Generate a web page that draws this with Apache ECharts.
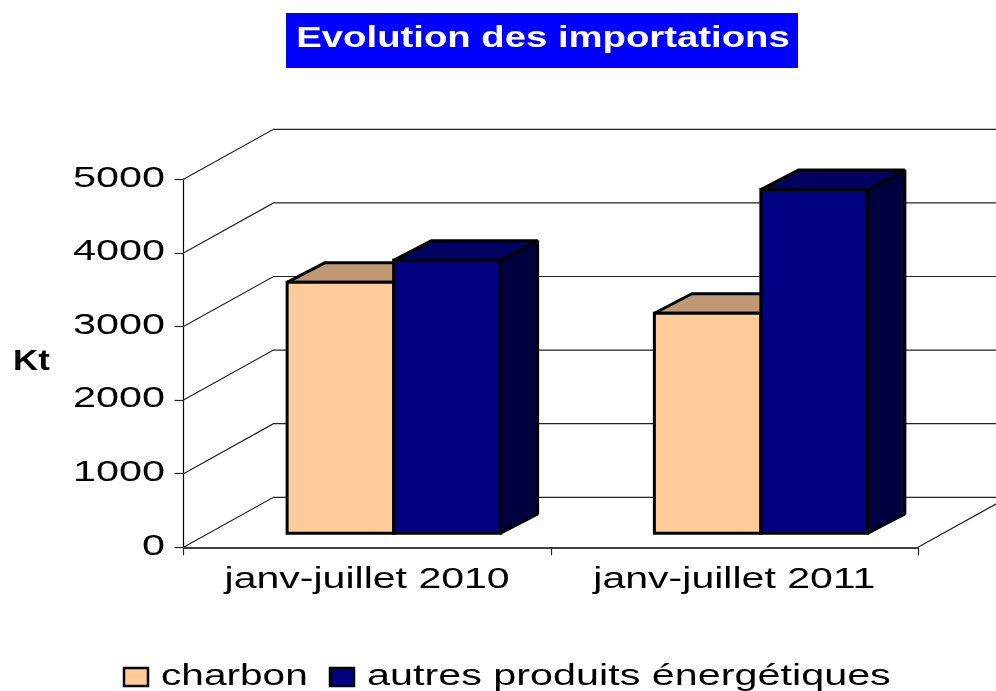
<!DOCTYPE html>
<html lang="fr">
<head>
    <meta charset="UTF-8">
    <title>Evolution des importations</title>
    <script src="https://cdn.jsdelivr.net/npm/echarts@6/dist/echarts.min.js"></script>
    <style>
        html, body { margin: 0; padding: 0; background: #fff; }
        #main { width: 996px; height: 691px; }
    </style>
</head>
<body>
<div id="main"></div>
<script>
    var titleText = 'Evolution des importations';
    var unitLabel = 'Kt';
    var categories = ['janv-juillet 2010', 'janv-juillet 2011'];
    var yTicks = [0, 1000, 2000, 3000, 4000, 5000];
    var charbon = [3410, 2990];
    var autres = [3710, 4670];
    var seriesNames = ['charbon', 'autres produits énergétiques'];

    // the source picture is stretched sideways, so the text is too
    var FONT = '"Liberation Sans", Arial, sans-serif';
    // floor depth of the fake 3D box, and where the bars stand in it
    var WALL_DX = 90, WALL_DY = -50;
    var BAR_DX = 26.5, BAR_DY = -14;
    var SIDE_DX = 37.5, SIDE_DY = -19.5;

    function pts(list) {
        return { points: list };
    }

    // back wall, side wall and floor lines
    function renderWalls(params, api) {
        var v = api.value(0);
        var y = api.coord([0, v])[1];
        var left = params.coordSys.x;
        var right = left + params.coordSys.width;
        var lines = [{
            type: 'polyline',
            shape: pts([[left, y], [left + WALL_DX, y + WALL_DY], [right + WALL_DX, y + WALL_DY]]),
            style: { fill: null, stroke: '#222', lineWidth: 1.2 }
        }];
        if (v === 0) {
            lines.push({
                type: 'line',
                shape: { x1: right, y1: y, x2: right + WALL_DX, y2: y + WALL_DY },
                style: { stroke: '#222', lineWidth: 1.2 }
            });
        }
        return { type: 'group', children: lines };
    }

    function barRenderer(side, front, top, dark) {
        return function (params, api) {
            var i = api.value(0);
            var p = api.coord([i, api.value(1)]);
            var base = api.coord([i, 0]);
            var w = api.size([1, 0])[0] * 0.29;
            var x0 = p[0] + BAR_DX + (side === 0 ? -w : 0);
            var x1 = x0 + w;
            var yt = p[1] + BAR_DY;
            var yb = base[1] + BAR_DY;
            var edge = { stroke: '#000', lineWidth: 3, lineJoin: 'bevel' };
            return {
                type: 'group',
                children: [
                    {
                        type: 'polygon',
                        shape: pts([[x1, yt], [x1 + SIDE_DX, yt + SIDE_DY], [x1 + SIDE_DX, yb + SIDE_DY], [x1, yb]]),
                        style: Object.assign({ fill: dark }, edge)
                    },
                    {
                        type: 'polygon',
                        shape: pts([[x0, yt], [x0 + SIDE_DX, yt + SIDE_DY], [x1 + SIDE_DX, yt + SIDE_DY], [x1, yt]]),
                        style: Object.assign({ fill: top }, edge)
                    },
                    {
                        type: 'rect',
                        shape: { x: x0, y: yt, width: w, height: yb - yt },
                        style: Object.assign({ fill: front }, edge, { lineJoin: 'miter' })
                    }
                ]
            };
        };
    }

    function renderYLabel(params, api) {
        var y = api.coord([0, api.value(0)])[1];
        return {
            type: 'text',
            x: 165,
            y: y - 1,
            scaleX: 1.38,
            style: {
                text: String(api.value(0)),
                fontFamily: FONT,
                fontSize: 30,
                fill: '#000',
                align: 'right',
                verticalAlign: 'middle'
            }
        };
    }

    function renderXLabel(params, api) {
        var p = api.coord([api.value(0), 0]);
        return {
            type: 'text',
            x: p[0],
            y: p[1] + 33,
            scaleX: 1.415,
            style: {
                text: categories[api.value(0)],
                fontFamily: FONT,
                fontSize: 29,
                fill: '#000',
                align: 'center',
                verticalAlign: 'middle'
            }
        };
    }

    function stretchedText(text, x, y, sx, size, weight, color, align) {
        return {
            type: 'text',
            x: x,
            y: y,
            scaleX: sx,
            style: {
                text: text,
                fontFamily: FONT,
                fontSize: size,
                fontWeight: weight,
                fill: color,
                align: align || 'left',
                verticalAlign: 'middle'
            }
        };
    }

    function swatch(x, color) {
        return {
            type: 'rect',
            shape: { x: x, y: 668, width: 24, height: 18 },
            style: { fill: color, stroke: '#000', lineWidth: 2.5 }
        };
    }

    var myChart = echarts.init(document.getElementById('main'), null, { renderer: 'canvas' });

    var option = {
        animation: false,
        backgroundColor: '#fff',
        grid: { left: 183.5, top: 179.3, width: 734.5, height: 368 },
        xAxis: {
            type: 'category',
            data: categories,
            axisLine: { lineStyle: { color: '#000', width: 1.5 } },
            axisTick: { show: true, length: 8, lineStyle: { color: '#222', width: 1.2 } },
            axisLabel: { show: false }
        },
        yAxis: {
            type: 'value',
            min: 0,
            max: 5000,
            interval: 1000,
            axisLine: { show: true, lineStyle: { color: '#000', width: 1.2 } },
            axisTick: { show: true, length: 9, lineStyle: { color: '#222', width: 1.2 } },
            axisLabel: { show: false },
            splitLine: { show: false }
        },
        graphic: [
            {
                type: 'rect',
                shape: { x: 286, y: 13, width: 512, height: 55 },
                style: { fill: '#0000ff' }
            },
            stretchedText(titleText, 543, 39, 1.32, 29, 'bold', '#fff', 'center'),
            stretchedText(unitLabel, 13, 362, 1.2, 29, 'bold', '#000'),
            swatch(124, '#ffcc99'),
            stretchedText(seriesNames[0], 161, 677, 1.4, 29, 'normal', '#000'),
            swatch(330, '#000080'),
            stretchedText(seriesNames[1], 367, 677, 1.425, 29, 'normal', '#000')
        ],
        series: [
            {
                type: 'custom',
                name: 'walls',
                silent: true,
                z: 1,
                data: yTicks.map(function (t) { return [t]; }),
                encode: { y: 0 },
                renderItem: renderWalls
            },
            {
                type: 'custom',
                name: seriesNames[0],
                z: 3,
                data: charbon.map(function (v, i) { return [i, v]; }),
                encode: { x: 0, y: 1 },
                renderItem: barRenderer(0, '#ffcc99', '#bf9973', '#80664c')
            },
            {
                type: 'custom',
                name: seriesNames[1],
                z: 4,
                data: autres.map(function (v, i) { return [i, v]; }),
                encode: { x: 0, y: 1 },
                renderItem: barRenderer(1, '#000080', '#000060', '#000040')
            },
            {
                type: 'custom',
                name: 'yLabels',
                silent: true,
                z: 5,
                data: yTicks.map(function (t) { return [t]; }),
                encode: { y: 0 },
                renderItem: renderYLabel
            },
            {
                type: 'custom',
                name: 'xLabels',
                silent: true,
                z: 5,
                data: categories.map(function (c, i) { return [i]; }),
                encode: { x: 0 },
                renderItem: renderXLabel
            }
        ]
    };

    myChart.setOption(option);
</script>
</body>
</html>
